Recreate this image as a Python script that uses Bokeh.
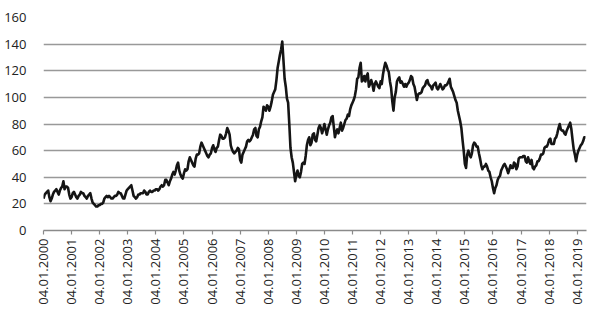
import math
from bokeh.plotting import figure
from bokeh.models import FixedTicker, Range1d
from bokeh.embed import file_html
from bokeh.resources import INLINE

# Semi-monthly readings of the price (two values per month)
p2000 = [24, 27, 28, 29, 30, 25, 22, 24, 27, 29, 30, 31, 29, 27, 30, 32, 33, 37, 31, 33, 33, 32, 27, 24]
p2001 = [25, 28, 29, 27, 25, 24, 26, 27, 29, 28, 28, 26, 25, 24, 26, 27, 28, 24, 21, 20, 19, 18, 18, 19]
p2002 = [19, 20, 20, 21, 24, 25, 26, 25, 26, 25, 24, 24, 25, 26, 26, 27, 29, 28, 28, 26, 24, 24, 27, 30]
p2003 = [31, 32, 33, 34, 30, 26, 25, 24, 25, 27, 27, 28, 28, 28, 30, 29, 27, 27, 29, 30, 29, 29, 30, 30]
p2004 = [31, 31, 30, 31, 33, 34, 33, 34, 38, 38, 36, 34, 37, 39, 42, 44, 42, 45, 49, 51, 45, 42, 40, 39]
p2005 = [43, 46, 45, 46, 52, 55, 53, 51, 49, 48, 54, 57, 57, 58, 63, 66, 64, 62, 60, 58, 56, 55, 57, 58]
p2006 = [62, 64, 61, 59, 62, 63, 68, 72, 71, 69, 69, 70, 73, 77, 75, 72, 64, 61, 59, 58, 59, 60, 62, 61]
p2007 = [53, 51, 57, 59, 61, 63, 67, 68, 67, 68, 70, 72, 76, 77, 71, 70, 76, 78, 82, 85, 93, 92, 90, 94]
p2008 = [93, 90, 93, 97, 102, 104, 106, 113, 122, 127, 132, 136, 142, 128, 114, 108, 99, 96, 80, 62, 55, 51, 44, 37]
p2009 = [42, 45, 41, 40, 44, 50, 51, 50, 56, 64, 68, 70, 64, 66, 72, 73, 68, 67, 72, 77, 79, 77, 73, 76]
p2010 = [80, 76, 72, 76, 79, 81, 85, 86, 78, 70, 74, 76, 73, 77, 81, 75, 77, 80, 83, 84, 87, 86, 91, 94]
p2011 = [96, 98, 101, 106, 114, 115, 122, 126, 112, 113, 116, 112, 116, 118, 108, 110, 113, 110, 105, 110, 112, 110, 108, 107]
p2012 = [112, 110, 117, 122, 126, 124, 121, 119, 112, 107, 97, 90, 100, 104, 112, 114, 115, 111, 112, 110, 108, 110, 108, 110]
p2013 = [111, 113, 116, 115, 110, 108, 103, 98, 102, 103, 103, 104, 107, 108, 109, 112, 113, 110, 109, 108, 106, 109, 110, 111]
p2014 = [107, 106, 108, 110, 108, 106, 107, 109, 109, 110, 112, 114, 108, 106, 104, 101, 98, 96, 90, 86, 82, 77, 68, 60]
p2015 = [50, 47, 57, 60, 57, 55, 58, 64, 66, 65, 63, 63, 58, 54, 49, 46, 48, 48, 50, 48, 45, 44, 40, 37]
p2016 = [32, 28, 32, 34, 38, 40, 41, 45, 47, 49, 50, 48, 46, 43, 46, 49, 47, 47, 51, 50, 46, 48, 54, 55]
p2017 = [55, 55, 56, 56, 52, 51, 55, 52, 50, 53, 47, 46, 48, 49, 52, 52, 54, 57, 57, 58, 62, 63, 63, 65]
p2018 = [68, 69, 65, 65, 65, 69, 70, 73, 77, 80, 76, 75, 75, 73, 72, 75, 77, 79, 81, 76, 68, 61, 57, 52]
p2019 = [57, 60, 62, 64, 65, 67, 70, 70]

years = list(range(2000, 2020))
tick_labels = ["04.01.%d" % y for y in years]
series = [p2000, p2001, p2002, p2003, p2004, p2005, p2006, p2007, p2008, p2009,
          p2010, p2011, p2012, p2013, p2014, p2015, p2016, p2017, p2018, p2019]

xs, ys = [], []
for yr, vals in zip(years, series):
    for i, v in enumerate(vals):
        xs.append(yr + i / 24.0)
        ys.append(v)

p = figure(width=600, height=317, output_backend="svg", toolbar_location=None,
           x_range=Range1d(2000, 2019.33), y_range=Range1d(0, 160),
           min_border_left=43, min_border_right=14, min_border_top=17, min_border_bottom=87)
p.outline_line_color = None
p.background_fill_color = "white"
p.border_fill_color = "white"

p.line(xs, ys, line_color="#151515", line_width=2.6, line_join="round")

FONT = "Open Sans"
# y axis
p.yaxis.ticker = FixedTicker(ticks=[0, 20, 40, 60, 80, 100, 120, 140, 160])
p.yaxis.axis_line_color = None
p.yaxis.major_tick_line_color = None
p.yaxis.minor_tick_line_color = None
p.yaxis.major_label_standoff = 11
p.yaxis.major_label_text_font = FONT
p.yaxis.major_label_text_font_size = "13px"
p.yaxis.major_label_text_color = "#222222"

# x axis
p.xaxis.ticker = FixedTicker(ticks=years)
p.xaxis.major_label_overrides = {y: lab for y, lab in zip(years, tick_labels)}
p.xaxis.major_label_orientation = math.pi / 2
p.xaxis.axis_line_color = "#8a8a8a"
p.xaxis.axis_line_width = 1.5
p.xaxis.major_tick_line_color = "#8a8a8a"
p.xaxis.major_tick_line_width = 1.2
p.xaxis.major_tick_in = 0
p.xaxis.major_tick_out = 4
p.xaxis.minor_tick_line_color = None
p.xaxis.major_label_standoff = 4
p.xaxis.major_label_text_font = FONT
p.xaxis.major_label_text_font_size = "13px"
p.xaxis.major_label_text_color = "#222222"

p.xgrid.grid_line_color = None
p.ygrid.grid_line_color = "#999999"
p.ygrid.grid_line_width = 1.6

open("out.html", "w").write(file_html(p, INLINE))
